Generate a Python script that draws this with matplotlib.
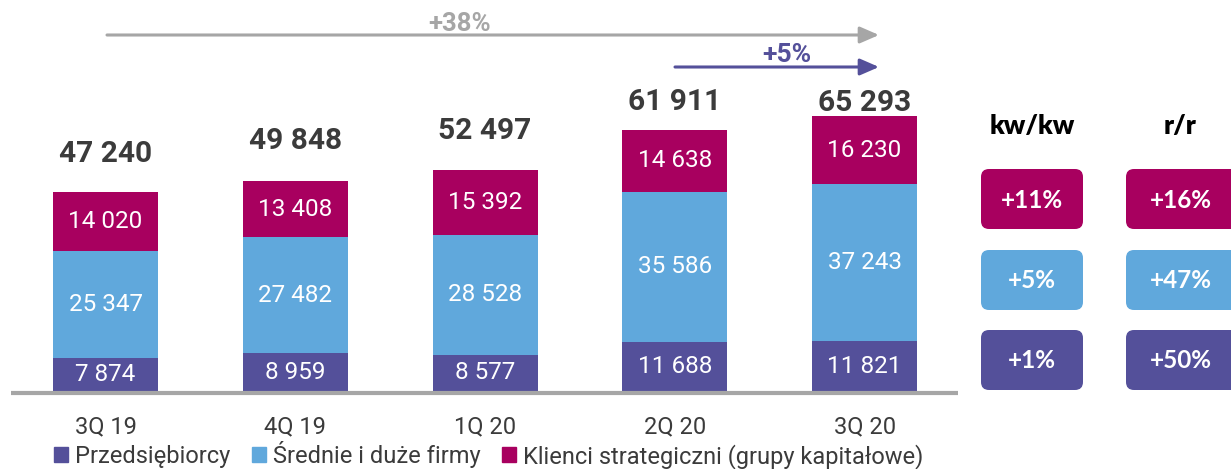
import matplotlib
matplotlib.use("Agg")
import matplotlib.pyplot as plt
from matplotlib.patches import FancyBboxPatch, Patch

plt.rcParams['font.family'] = ['Roboto', 'DejaVu Sans']

quarters = ['3Q 19', '4Q 19', '1Q 20', '2Q 20', '3Q 20']
przedsiebiorcy = [7874, 8959, 8577, 11688, 11821]
srednie_duze = [25347, 27482, 28528, 35586, 37243]
strategiczni = [14020, 13408, 15392, 14638, 16230]
totals = [47240, 49848, 52497, 61911, 65293]

series_names = ['Przedsiębiorcy', 'Średnie i duże firmy',
                'Klienci strategiczni (grupy kapitałowe)']

PURPLE = '#54509a'
BLUE = '#60a8dc'
MAGENTA = '#a8005f'
GRAY = '#a6a6a6'
DARK = '#3b3b3b'

W, H = 1231, 469
PX = 0.004213  # pixels per unit on the value axis


def fmt(v):
    return f"{v:,}".replace(",", " ")


def pct(new, old):
    return f"+{round((new / old - 1) * 100)}%"


fig = plt.figure(figsize=(W / 100, H / 100), dpi=100)

# bar panel: baseline at 391 px from the top
y0 = (H - 391) / H
ymax = 80000
ax = fig.add_axes([0, y0, 1, ymax * PX / H])
ax.set_xlim(-0.556, 5.931)
ax.set_ylim(0, ymax)
ax.axis('off')

x = range(len(quarters))
bw = 0.553
bottom = [0] * len(quarters)
for vals, col in [(przedsiebiorcy, PURPLE), (srednie_duze, BLUE), (strategiczni, MAGENTA)]:
    ax.bar(x, vals, bw, bottom=bottom, color=col, zorder=2)
    for i, v in enumerate(vals):
        ax.text(i, bottom[i] + v / 2, fmt(v), ha='center', va='center',
                color='white', fontsize=17.5, zorder=3)
    bottom = [b + v for b, v in zip(bottom, vals)]

# totals above each bar (pixel gap differs where the arrows sit)
gaps = [38, 40, 39, 28, 13]
for i, t in enumerate(totals):
    ax.annotate(fmt(t), (i, t), xytext=(0, gaps[i] * 0.72), textcoords='offset points',
                ha='center', va='center', fontsize=21.5, fontweight='bold', color=DARK)

# quarter labels under the axis line
for i, q in enumerate(quarters):
    ax.annotate(q, (i, 0), xytext=(0, -36 * 0.72), textcoords='offset points',
                ha='center', va='center', fontsize=17, color=DARK)

ax.axhline(-2.2 / PX, xmin=11 / W, xmax=958 / W, color=GRAY, lw=3, zorder=4,
           solid_capstyle='butt', clip_on=False)

# overlay in pixel units for arrows and the change boxes
ov = fig.add_axes([0, 0, 1, 1], zorder=5)
ov.set_xlim(0, W)
ov.set_ylim(H, 0)
ov.axis('off')

arrow_style = '-|>,head_length=11.5,head_width=5'
ov.annotate('', xy=(879, 35), xytext=(107, 35),
            arrowprops=dict(arrowstyle=arrow_style, mutation_scale=1, lw=2.2,
                            color=GRAY, shrinkA=0, shrinkB=0))
ov.text(460, 24, pct(totals[-1], totals[0]), ha='center', va='center',
        fontsize=18.5, fontweight='bold', color=GRAY)
ov.annotate('', xy=(879, 67), xytext=(675, 67),
            arrowprops=dict(arrowstyle=arrow_style, mutation_scale=1, lw=2.2,
                            color=PURPLE, shrinkA=0, shrinkB=0))
ov.text(787, 55, pct(totals[-1], totals[-2]), ha='center', va='center',
        fontsize=19, fontweight='bold', color=PURPLE)

# quarter-on-quarter and year-on-year change boxes
box_font = ['Lato', 'DejaVu Sans']
ov.text(1032, 126, 'kw/kw', ha='center', va='center', fontsize=19,
        fontweight='heavy', color='black', family=box_font)
ov.text(1180, 126, 'r/r', ha='center', va='center', fontsize=19,
        fontweight='heavy', color='black', family=box_font)

rows = [(strategiczni, MAGENTA, 169), (srednie_duze, BLUE, 250), (przedsiebiorcy, PURPLE, 330)]
for vals, col, top in rows:
    for left, right, cx, label in [(981, 1083, 1032, pct(vals[-1], vals[-2])),
                                   (1126, 1270, 1181, pct(vals[-1], vals[0]))]:
        ov.add_patch(FancyBboxPatch((left + 8, top + 8), right - left - 16, 60 - 16,
                                    boxstyle='round,pad=8', color=col, lw=0))
        ov.text(cx, top + 31, label, ha='center', va='center', fontsize=17.5,
                fontweight='bold', color='white', family=box_font)

handles = [Patch(color=c) for c in (PURPLE, BLUE, MAGENTA)]
fig.legend(handles, series_names, loc='center left', bbox_to_anchor=(54 / W, (H - 455) / H),
           ncol=3, frameon=False, fontsize=17, borderpad=0, borderaxespad=0,
           handlelength=0.6, handleheight=0.6, handletextpad=0.3, columnspacing=0.9,
           labelcolor=DARK)

fig.savefig('out.png', dpi=100)
